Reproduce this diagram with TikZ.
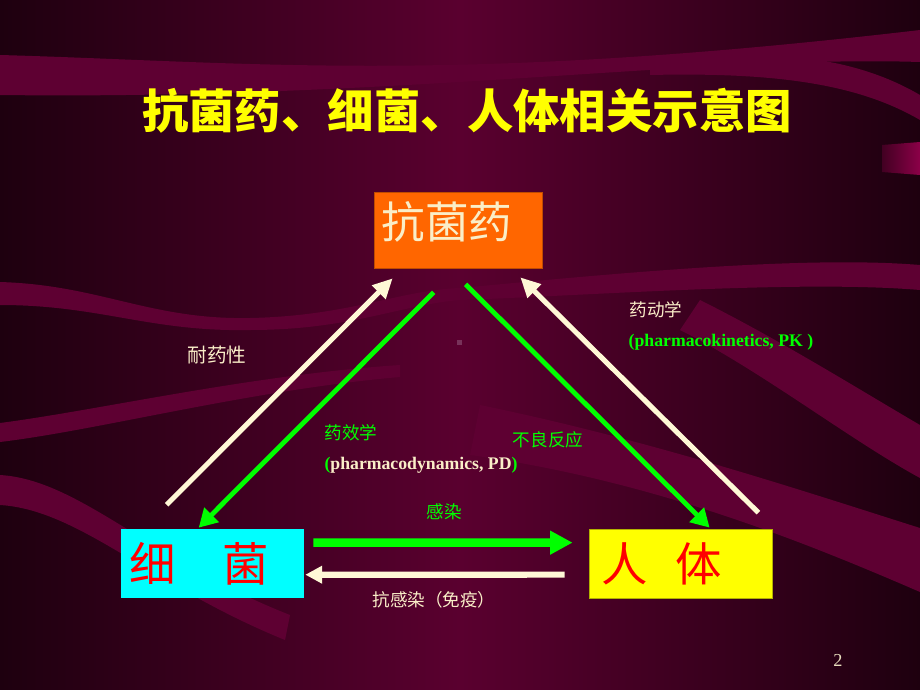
\documentclass[tikz,border=0pt]{standalone}
\usepackage{fontspec}
\setmainfont{Liberation Serif}
\newfontfamily\cjk{Noto Sans CJK SC}
\usetikzlibrary{%
        arrows.meta,
        calc
    }
\definecolor{bgdark}{RGB}{30, 0, 15}
\definecolor{bgmid}{RGB}{90, 0, 47}
\definecolor{band}{RGB}{94, 0, 50}
\definecolor{cream}{RGB}{255, 248, 214}
\definecolor{creamtext}{RGB}{250, 238, 200}
\definecolor{lime}{RGB}{0, 255, 0}
\definecolor{drugorange}{RGB}{255, 102, 0}
\definecolor{bactcyan}{RGB}{0, 255, 255}
\definecolor{bodyyellow}{RGB}{255, 255, 0}
\definecolor{boxred}{RGB}{255, 0, 0}
\definecolor{ribbon}{RGB}{140, 0, 72}
\tikzset{
    creamarrow/.style={draw=cream, line width=3.6pt, -{Triangle[length=14pt, width=13pt]}},
    greenarrow/.style={draw=lime, line width=3.4pt, -{Triangle[length=13pt, width=14pt]}},
    box/.style={rectangle, minimum width=4.575cm, minimum height=1.725cm, inner sep=0pt},
    cjklabel/.style={font=\cjk\fontsize{12.5}{15}\selectfont},
    enlabel/.style={font=\bfseries\fontsize{12.6}{15}\selectfont}
}

\begin{document}
\begin{tikzpicture}[x=0.025cm, y=-0.025cm]

    \useasboundingbox (0, 0) rectangle (920, 690);

    % background and ribbons
    \shade[left color=bgdark, right color=bgdark, middle color=bgmid]
        (0, 0) rectangle (920, 690);
    \fill[band] (0, 55) .. controls (250, 62) and (450, 85) .. (920, 30) --
        (920, 62) .. controls (700, 55) and (400, 100) .. (0, 95) -- cycle;
    \fill[band] (650, 62) .. controls (780, 45) and (860, 60) .. (920, 95) --
        (920, 120) .. controls (860, 85) and (780, 72) .. (650, 75) -- cycle;
    \fill[band] (0, 282) .. controls (100, 285) and (150, 320) .. (250, 318)
        .. controls (350, 316) and (400, 290) .. (460, 288)
        .. controls (600, 275) and (800, 255) .. (920, 265) --
        (920, 290) .. controls (800, 280) and (600, 295) .. (460, 300)
        .. controls (400, 305) and (350, 330) .. (250, 330)
        .. controls (150, 332) and (100, 305) .. (0, 305) -- cycle;
    \fill[band] (0, 423) .. controls (100, 410) and (250, 375) .. (400, 365) --
        (400, 377) .. controls (250, 390) and (100, 430) .. (0, 442) -- cycle;
    \fill[band] (0, 475) .. controls (80, 480) and (150, 560) .. (290, 615) --
        (285, 640) .. controls (150, 585) and (80, 510) .. (0, 505) -- cycle;
    \fill[band] (700, 300) .. controls (780, 340) and (860, 390) .. (920, 425) --
        (920, 478) .. controls (850, 440) and (760, 370) .. (680, 330) -- cycle;
    \fill[band] (480, 405) .. controls (650, 440) and (800, 490) .. (920, 528) --
        (920, 592) .. controls (800, 540) and (650, 480) .. (470, 455) -- cycle;
    \shade[left color=bgdark!40!bgmid, right color=ribbon]
        (882, 145) -- (920, 142) -- (920, 175) -- (882, 172) -- cycle;
    \fill[color={rgb,255:red,120;green,50;blue,90}] (457, 340) rectangle (462, 345);

    % title
    \node[font=\cjk\bfseries\fontsize{33}{36}\selectfont, text=bodyyellow]
        (title) at (467, 111) {抗菌药、细菌、人体相关示意图};

    % the three boxes
    \node[box, fill=drugorange, draw=drugorange!75!black, line width=0.5pt,
        minimum width=4.2cm, minimum height=1.9cm] (drug) at (458, 230) {};
    \node[font=\cjk\fontsize{31}{34}\selectfont, text=creamtext]
        (drugtext) at (447, 222) {抗菌药};
    \node[box, fill=bactcyan] (bact) at (212.5, 563.5) {};
    \node[font=\cjk\fontsize{33}{36}\selectfont, text=boxred]
        (bacttext) at (199, 564) {细\hspace{1em}菌};
    \node[box, fill=bodyyellow, draw=bodyyellow!70!black, line width=0.5pt] (body) at (680.5, 563.5) {};
    \node[font=\cjk\fontsize{33}{36}\selectfont, text=boxred]
        (bodytext) at (662, 564) {人\hspace{0.6em}体};

    % arrow ends
    \coordinate (resA) at ($(bact.north west)+(46, -24)$);
    \coordinate (resB) at ($(drug.south west)+(19, 10)$);
    \coordinate (pdA) at ($(drug.south west)+(60, 24)$);
    \coordinate (pdB) at ($(bact.north west)+(78, -1)$);
    \coordinate (advA) at ($(drug.south west)+(92, 16)$);
    \coordinate (advB) at ($(body.north west)+(121, -1)$);
    \coordinate (pkA) at ($(body.north east)+(-14, -16)$);
    \coordinate (pkB) at ($(drug.south east)+(-22, 9)$);
    \coordinate (infA) at ($(bact.north east)+(9, 14)$);
    \coordinate (infB) at ($(body.north west)+(-16, 14)$);
    \coordinate (immA) at ($(body.north west)+(-24, 46)$);
    \coordinate (immB) at ($(bact.north east)+(1, 46)$);

    \draw[creamarrow] (resA) -- (resB);
    \draw[greenarrow] (pdA) -- (pdB);
    \draw[greenarrow] (advA) -- (advB);
    \draw[creamarrow] (pkA) -- (pkB);
    \draw[draw=lime, line width=6pt, -{Triangle[length=16pt, width=16pt]}] (infA) -- (infB);
    \draw[creamarrow, line width=4.4pt, -{Triangle[length=12pt, width=12pt]}] (immA) -- (immB);

    % labels
    \node[font=\cjk\fontsize{14}{16}\selectfont, text=creamtext] (resist) at (217, 355) {耐药性};
    \node[cjklabel, text=creamtext] (pkname) at (656, 310) {药动学};
    \node[enlabel, text=lime] (pkterm) at (721, 342) {(pharmacokinetics, PK )};
    \node[cjklabel, text=lime] (pdname) at (351, 433) {药效学};
    \node[enlabel, text=creamtext] (pdterm) at (421, 465)
        {\textcolor{lime}{(}pharmacodynamics, PD\textcolor{lime}{)}};
    \node[cjklabel, text=lime] (adverse) at (548, 440) {不良反应};
    \node[cjklabel, text=lime] (infect) at (444, 512) {感染};
    \node[cjklabel, text=creamtext] (immune) at (434, 600) {抗感染（免疫）};
    \node[font=\fontsize{13}{15}\selectfont, text=creamtext!85!gray] (page) at (838, 660) {2};

\end{tikzpicture}
\end{document}
